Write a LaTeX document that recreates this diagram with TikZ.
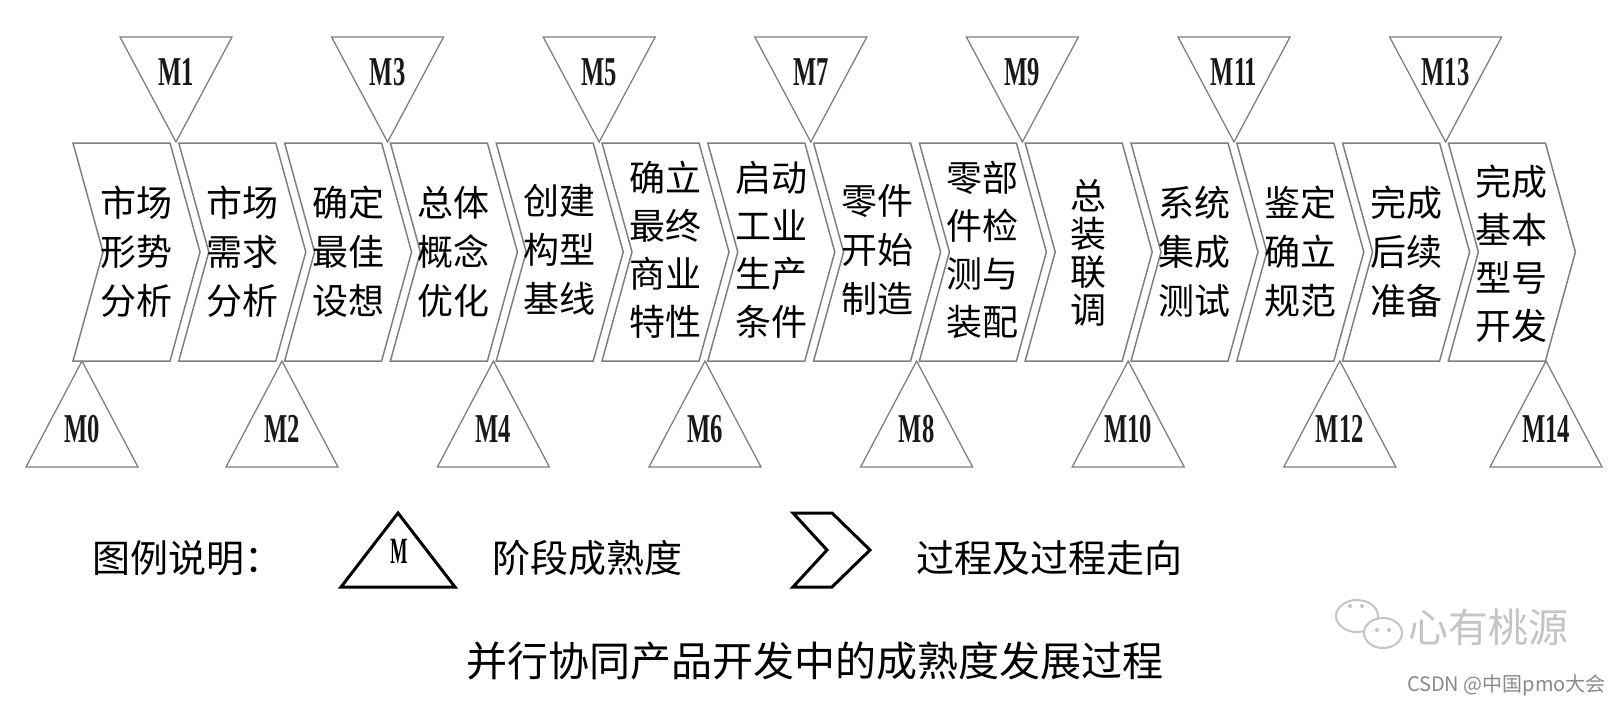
\documentclass[tikz,border=0pt]{standalone}
\usepackage{fontspec}
\setmainfont{Liberation Serif}
\newfontfamily\cjk{Noto Sans CJK SC}
\newfontfamily\mserif[FakeStretch=0.6]{Liberation Serif}
\newfontfamily\legmserif[FakeStretch=0.5]{Liberation Serif}
\definecolor{linegray}{HTML}{808080}
\definecolor{wmgray}{HTML}{C4C4C4}
\definecolor{csdngray}{HTML}{8A8A8A}
\tikzset{
  chev/.style={draw=linegray, line width=1.5pt, line join=miter},
  tri/.style={draw=linegray, line width=1.3pt, line join=miter},
  ctext/.style={font=\cjk\fontsize{36}{49}\selectfont, align=center, inner sep=0pt, text=black},
  ctextb/.style={font=\cjk\fontsize{36}{48}\selectfont, align=center, inner sep=0pt, text=black},
  mlab/.style={font=\mserif\bfseries\fontsize{41}{41}\selectfont, inner sep=0pt, text=black!90},
  legtext/.style={font=\cjk\fontsize{38}{38}\selectfont, inner sep=0pt, text=black},
  legshape/.style={draw=black, line width=3pt, line join=miter},
}
\begin{document}
\begin{tikzpicture}[x=1pt,y=-1pt]
\useasboundingbox[fill=white] (0,0) rectangle (1620,704);
% chevrons
\foreach \k in {0,...,13}{
  \pgfmathsetmacro\xa{73+105.8*\k}
  \draw[chev] (\xa,143) -- ++(97,0) -- ++(30,109) -- ++(-30,109) -- ++(-97,0) -- ++(30,-109) -- cycle;
}
% chevron texts
\node[ctext]  (t0)  at (136.5,252) {市场\\形势\\分析};
\node[ctext]  (t1)  at (242.3,252) {市场\\需求\\分析};
\node[ctext]  (t2)  at (348.1,252) {确定\\最佳\\设想};
\node[ctext]  (t3)  at (453.9,252) {总体\\概念\\优化};
\node[ctext]  (t4)  at (559.7,250) {创建\\构型\\基线};
\node[ctextb] (t5)  at (665.5,250) {确立\\最终\\商业\\特性};
\node[ctextb] (t6)  at (771.3,250) {启动\\工业\\生产\\条件};
\node[ctext]  (t7)  at (877.1,250) {零件\\开始\\制造};
\node[ctextb] (t8)  at (982.9,250) {零部\\件检\\测与\\装配};
\node[font=\cjk\fontsize{36}{38}\selectfont, align=center, inner sep=0pt] (t9) at (1088.7,253) {总\\装\\联\\调};
\node[ctext]  (t10) at (1194.5,252) {系统\\集成\\测试};
\node[ctext]  (t11) at (1300.3,252) {鉴定\\确立\\规范};
\node[ctext]  (t12) at (1406.1,252) {完成\\后续\\准备};
\node[ctextb] (t13) at (1511.9,254) {完成\\基本\\型号\\开发};
% top triangles (odd milestones)
\foreach \j in {0,...,6}{
  \pgfmathsetmacro\jx{176+211.6*\j}
  \pgfmathtruncatemacro\num{2*\j+1}
  \draw[tri] (\jx-56,37) -- (\jx+56,37) -- (\jx,142) -- cycle;
  \node[mlab] (m\num) at (\jx,72) {M\num};
}
% bottom triangles (even milestones)
\foreach \jx/\num in {82/0,282/2,493.4/4,705/6,916.6/8,1128.2/10,1339.8/12,1546/14}{
  \draw[tri] (\jx,361) -- (\jx+56,467) -- (\jx-56,467) -- cycle;
  \node[mlab] (m\num) at (\jx,429) {M\num};
}
% legend
\node[legtext, anchor=west] (leg) at (92,558) {图例说明：};
\draw[legshape] (398,513) -- (455,587) -- (341,587) -- cycle;
\node[font=\legmserif\bfseries\fontsize{37}{37}\selectfont, inner sep=0pt] (legm) at (399,551) {M};
\node[legtext, anchor=west] (leg1) at (492,558) {阶段成熟度};
\draw[legshape] (793,513) -- (832,513) -- (870,550) -- (832,587) -- (793,587) -- (827,550) -- cycle;
\node[legtext, anchor=west] (leg2) at (916,558) {过程及过程走向};
% title
\node[font=\cjk\fontsize{41}{41}\selectfont, inner sep=0pt] (title) at (815,661) {并行协同产品开发中的成熟度发展过程};
% watermarks
\draw[wmgray, line width=2pt] (1357,616) ellipse [x radius=21, y radius=16];
\draw[wmgray, line width=2pt, fill=white] (1383,633) ellipse [x radius=19, y radius=15];
\fill[wmgray] (1350,606) circle (2) (1362,606) circle (2) (1377,630) circle (2) (1389,630) circle (2);
\node[font=\cjk\fontsize{40}{40}\selectfont, text=wmgray, inner sep=0pt, anchor=west] (wm) at (1408,627) {心有桃源};
\node[font=\cjk\fontsize{20}{20}\selectfont, text=csdngray, inner sep=0pt, anchor=east] (csdn) at (1606,685) {CSDN @中国pmo大会};
\end{tikzpicture}
\end{document}
